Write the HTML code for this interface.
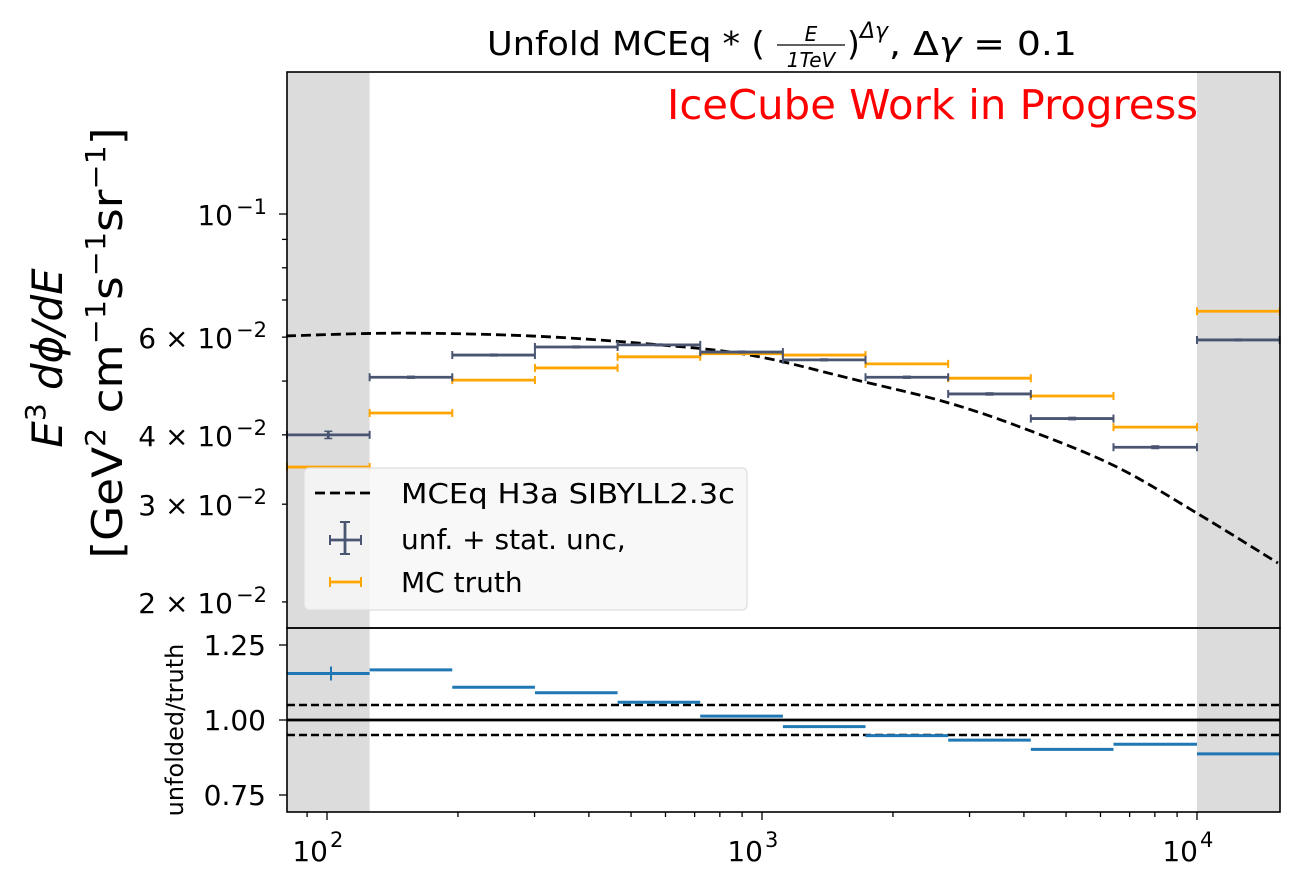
<!DOCTYPE html>
<html><head><meta charset="utf-8"><style>
body{margin:0;background:#fff;}
svg{display:block;font-family:"DejaVu Sans","Liberation Sans",sans-serif;}
</style></head><body>
<svg id="chart" width="1300" height="882" viewBox="0 0 1300 882" xmlns="http://www.w3.org/2000/svg">
<rect width="1300" height="882" fill="#fff"/>
<g id="main"></g>
</svg>
<script>
// ---- data ----
const binEdgesLog = [1.908, 2.098, 2.288, 2.478, 2.668, 2.858, 3.048, 3.238, 3.428, 3.618, 3.808, 4.0, 4.19];
const unfolded = [0.0400, 0.0508, 0.0557, 0.0576, 0.0581, 0.0564, 0.0546, 0.0508, 0.0474, 0.0428, 0.0380, 0.0593];
const unfoldedErr = [0.0006, 0.0002, 0.0002, 0.0002, 0.0002, 0.0002, 0.0002, 0.0002, 0.0002, 0.0002, 0.0002, 0.0002];
const truth = [0.0350, 0.0438, 0.0502, 0.0528, 0.0553, 0.0560, 0.0557, 0.0537, 0.0506, 0.0470, 0.0413, 0.0668];
const ratio = [1.155, 1.167, 1.109, 1.091, 1.059, 1.013, 0.978, 0.948, 0.933, 0.902, 0.919, 0.887];
const curveE = [80.5, 147, 293, 553, 938, 1618, 2704, 4198, 6546, 10000, 15350];
const curveFlux = [0.0603, 0.0610, 0.0603, 0.0583, 0.0557, 0.0504, 0.0456, 0.0405, 0.0350, 0.0289, 0.0235];
const yTickVals = [0.1, 0.06, 0.04, 0.03, 0.02];
const yTickLabels = ["10", "6 \u00d7 10", "4 \u00d7 10", "3 \u00d7 10", "2 \u00d7 10"];
const yTickExps = ["\u22121", "\u22122", "\u22122", "\u22122", "\u22122"];
const rTicks = [1.25, 1.00, 0.75];
const xDecades = [2, 3, 4];

// ---- axes ----
const L = 287, R = 1280, T = 72, MB = 628, RB = 812;
const xLog = l => 327 + (l - 2) * 435;
const xE = e => xLog(Math.log10(e));
const yM = v => 214 - (Math.log10(v) + 1) * 555;
const yR = v => 720 - (v - 1) * 300;
const NS = "http://www.w3.org/2000/svg";
const g = document.getElementById('main');
function mk(tag, attrs, parent) {
  const el = document.createElementNS(NS, tag);
  for (const k in attrs) el.setAttribute(k, attrs[k]);
  (parent || g).appendChild(el);
  return el;
}
// shading
[[L, xLog(binEdgesLog[1])], [xLog(4), R]].forEach(([a, b], i) => {
  [[T, MB], [MB, RB]].forEach(([t, bt]) => {
    const r = mk('rect', {x: a, y: t, width: b - a, height: bt - t, fill: '#dcdcdc'});
    
    
  });
});
// x ticks
for (let d = 1; d <= 4; d++) for (let m = 1; m < 10; m++) {
  const l = d + Math.log10(m); const x = xLog(l);
  if (x < L || x > R) continue;
  mk('line', {x1: x, x2: x, y1: RB, y2: RB + (m === 1 ? 8 : 5), stroke: '#000', 'stroke-width': 1.3});
}
xDecades.forEach(d => {
  const t = mk('text', {x: xLog(d) + 1, y: 861, 'font-size': 28, 'text-anchor': 'end'});
  
  
  t.textContent = '10';
  const s = mk('text', {x: xLog(d) + 3, y: 847, 'font-size': 21});
  s.textContent = String(d);
});
// y ticks main
for (let d = -2; d <= -1; d++) for (let m = 1; m < 10; m++) {
  const v = m * Math.pow(10, d); const y = yM(v);
  if (y < T || y > MB) continue;
  mk('line', {x1: L, x2: L - (m === 1 ? 8 : 5), y1: y, y2: y, stroke: '#000', 'stroke-width': 1.3});
}
yTickVals.forEach((v, i) => {
  const t = mk('text', {x: 233, y: yM(v) + 11, 'font-size': 28, 'text-anchor': 'end'});
  
  
  t.textContent = yTickLabels[i];
  const s = mk('text', {x: 236, y: yM(v) + 0, 'font-size': 21});
  s.textContent = yTickExps[i];
});
rTicks.forEach(v => {
  mk('line', {x1: L, x2: L - 8, y1: yR(v), y2: yR(v), stroke: '#000', 'stroke-width': 1.3});
  const t = mk('text', {x: 266, y: yR(v) + 10, 'font-size': 28, 'text-anchor': 'end'});
  
  
  t.textContent = v.toFixed(2);
});
// curve (smooth Catmull-Rom through read points)
const pts = curveE.map((e, i) => [xE(e), yM(curveFlux[i])]);
let dstr = 'M' + pts[0][0] + ',' + pts[0][1];
for (let i = 0; i < pts.length - 1; i++) {
  const p0 = pts[Math.max(0, i - 1)], p1 = pts[i], p2 = pts[i + 1], p3 = pts[Math.min(pts.length - 1, i + 2)];
  const c1 = [p1[0] + (p2[0] - p0[0]) / 6, p1[1] + (p2[1] - p0[1]) / 6];
  const c2 = [p2[0] - (p3[0] - p1[0]) / 6, p2[1] - (p3[1] - p1[1]) / 6];
  dstr += ' C' + c1.join(',') + ' ' + c2.join(',') + ' ' + p2.join(',');
}
const cp = mk('path', {d: dstr, fill: 'none', stroke: '#000', 'stroke-width': 2.8, 'stroke-dasharray': '10,5'});


// bins
function hbar(x1, x2, y, color, w, name, caps) {
  const b = mk('line', {x1, x2, y1: y, y2: y, stroke: color, 'stroke-width': w});
  
  
  if (caps) [x1, x2].forEach(x => mk('line', {x1: x, x2: x, y1: y - 4, y2: y + 4, stroke: color, 'stroke-width': 2}));
}
truth.forEach((v, i) => hbar(Math.max(L, xLog(binEdgesLog[i])), Math.min(R, xLog(binEdgesLog[i + 1])), yM(v), '#ffa500', 2.8, 'truth-bin', true));
unfolded.forEach((v, i) => {
  const x1 = Math.max(L, xLog(binEdgesLog[i])), x2 = Math.min(R, xLog(binEdgesLog[i + 1]));
  hbar(x1, x2, yM(v), '#4a5572', 2.8, 'unfolded-bin', true);
  const xc = xLog((binEdgesLog[i] + binEdgesLog[i + 1]) / 2);
  const yt = yM(v + unfoldedErr[i]), yb = yM(v - unfoldedErr[i]);
  mk('line', {x1: xc, x2: xc, y1: yt, y2: yb, stroke: '#4a5572', 'stroke-width': 2.8});
  mk('line', {x1: xc - 4, x2: xc + 4, y1: yt, y2: yt, stroke: '#4a5572', 'stroke-width': 1.5});
  mk('line', {x1: xc - 4, x2: xc + 4, y1: yb, y2: yb, stroke: '#4a5572', 'stroke-width': 1.5});
});
// ratio panel
mk('line', {x1: L, x2: R, y1: yR(1.05), y2: yR(1.05), stroke: '#000', 'stroke-width': 2.4, 'stroke-dasharray': '8,4'});
mk('line', {x1: L, x2: R, y1: yR(0.95), y2: yR(0.95), stroke: '#000', 'stroke-width': 2.4, 'stroke-dasharray': '8,4'});
ratio.forEach((v, i) => hbar(Math.max(L, xLog(binEdgesLog[i])), Math.min(R, xLog(binEdgesLog[i + 1])), yR(v), '#1f77b4', 3, 'ratio-bin', false));
mk('line', {x1: 331, x2: 331, y1: yR(ratio[0]) - 7, y2: yR(ratio[0]) + 7, stroke: '#1f77b4', 'stroke-width': 2});
mk('line', {x1: L, x2: R, y1: yR(1), y2: yR(1), stroke: '#000', 'stroke-width': 2.8});
// frames
mk('rect', {x: L, y: T, width: R - L, height: MB - T, fill: 'none', stroke: '#000', 'stroke-width': 1.6});
mk('rect', {x: L, y: MB, width: R - L, height: RB - MB, fill: 'none', stroke: '#000', 'stroke-width': 1.6});
</script>
<svg style="position:absolute;left:0;top:0" width="1300" height="882" xmlns="http://www.w3.org/2000/svg" font-family="DejaVu Sans, Liberation Sans, sans-serif">
  <g font-size="33">
    <text x="487" y="55" textLength="278" lengthAdjust="spacingAndGlyphs">Unfold MCEq * (</text>
    <text x="811" y="41" font-size="20" font-style="italic" text-anchor="middle">E</text>
    <line x1="777" x2="845" y1="45" y2="45" stroke="#000" stroke-width="1.3"/>
    <text x="811" y="67" font-size="20" font-style="italic" text-anchor="middle">1TeV</text>
    <text x="847" y="55">)</text>
    <text x="860" y="38" font-size="22" font-style="italic">Δγ</text>
    <text x="889" y="55" textLength="188" lengthAdjust="spacingAndGlyphs">, Δ<tspan font-style="italic">γ</tspan> = 0.1</text>
  </g>
  <text x="667" y="119" font-size="41" fill="#ff0000" textLength="531" lengthAdjust="spacingAndGlyphs">IceCube Work in Progress</text>
  <g transform="translate(62,358) rotate(-90)">
    <text x="0" y="0" font-size="42" text-anchor="middle"><tspan font-style="italic">E</tspan><tspan font-size="28" dy="-17">3</tspan><tspan dy="17" font-style="italic"> dϕ/dE</tspan></text>
    <text x="15" y="60" font-size="42" text-anchor="middle" textLength="431" lengthAdjust="spacingAndGlyphs">[GeV<tspan font-size="28" dy="-17">2</tspan><tspan dy="17"> cm</tspan><tspan font-size="28" dy="-17">−1</tspan><tspan dy="17">s</tspan><tspan font-size="28" dy="-17">−1</tspan><tspan dy="17">sr</tspan><tspan font-size="28" dy="-17">−1</tspan><tspan dy="17">]</tspan></text>
  </g>
  <text transform="translate(183,730) rotate(-90)" font-size="24" text-anchor="middle">unfolded/truth</text>
  <g>
    <rect x="304" y="468" width="443" height="142" rx="5" fill="#f7f7f7" fill-opacity="0.85" stroke="#dddddd" stroke-width="1.2"/>
    <line x1="315" x2="375" y1="493" y2="493" stroke="#000" stroke-width="2.8" stroke-dasharray="10,5"/>
    <text x="401" y="503" font-size="28" textLength="334" lengthAdjust="spacingAndGlyphs">MCEq H3a SIBYLL2.3c</text>
    <line x1="330" x2="361" y1="540" y2="540" stroke="#4a5572" stroke-width="2.8"/>
    <line x1="345" x2="345" y1="522" y2="554" stroke="#4a5572" stroke-width="2.8"/>
    <line x1="330" x2="330" y1="535" y2="545" stroke="#4a5572" stroke-width="2"/>
    <line x1="361" x2="361" y1="535" y2="545" stroke="#4a5572" stroke-width="2"/>
    <line x1="340" x2="350" y1="522" y2="522" stroke="#4a5572" stroke-width="2"/>
    <line x1="340" x2="350" y1="554" y2="554" stroke="#4a5572" stroke-width="2"/>
    <text x="401" y="549" font-size="28">unf. + stat. unc,</text>
    <line x1="330" x2="361" y1="582" y2="582" stroke="#ffa500" stroke-width="2.8"/>
    <line x1="330" x2="330" y1="577" y2="587" stroke="#ffa500" stroke-width="2"/>
    <line x1="361" x2="361" y1="577" y2="587" stroke="#ffa500" stroke-width="2"/>
    <text x="401" y="592" font-size="28">MC truth</text>
  </g>
</svg>
</body></html>
